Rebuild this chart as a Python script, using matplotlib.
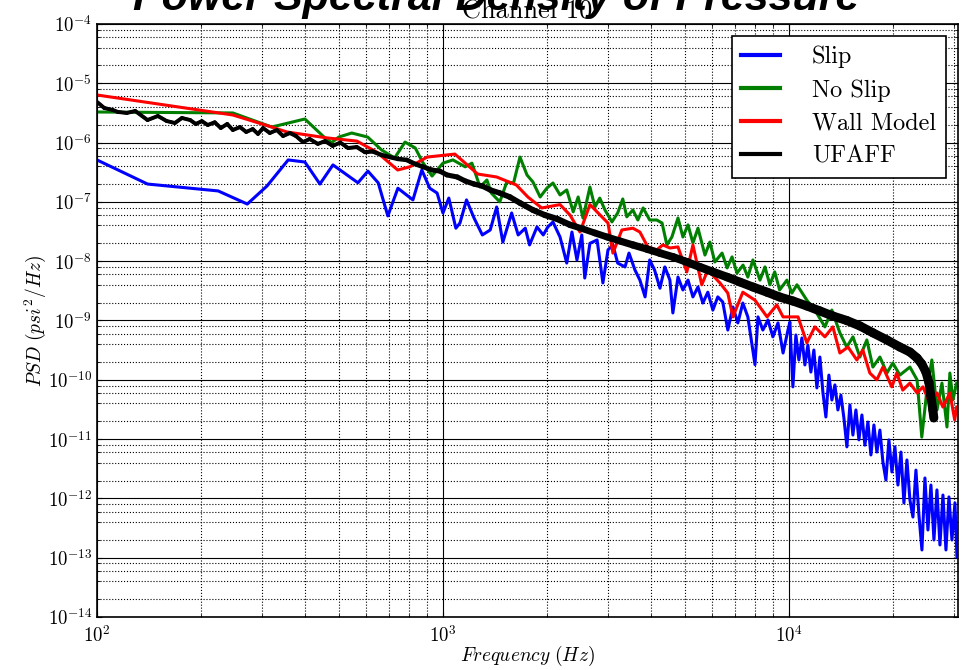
import matplotlib
matplotlib.use("Agg")
import matplotlib.pyplot as plt
import numpy as np
from matplotlib.collections import LineCollection
from matplotlib.ticker import LogLocator, FuncFormatter, NullFormatter

plt.rcParams['mathtext.fontset'] = 'cm'
plt.rcParams['axes.formatter.use_mathtext'] = True

# Slip
slip_freq = [100, 140, 224, 272, 310, 357, 399, 441, 481, 568, 607, 650, 693, 741, 819, 869, 916, 962,
             1000, 1040, 1090, 1120, 1170, 1230, 1300, 1370, 1430, 1490, 1580, 1650, 1730, 1780, 1870,
             1950, 2010, 2080, 2180, 2280, 2360, 2440, 2520, 2570, 2660, 2790, 2900, 3000, 3100, 3200,
             3360, 3450, 3590, 3710, 3840, 3960, 4090, 4240, 4380, 4530, 4620, 4780, 4940, 5110, 5280,
             5460, 5640, 5830, 6030, 6230, 6440, 6660, 6890, 7120, 7360, 7610, 7980, 8140, 8410, 8700,
             8990, 9300, 9620, 9940,
             10067, 10270, 10477, 10688, 10904, 11124, 11348, 11577, 11810, 12049, 12292, 12540,
             12793, 13051, 13314, 13583, 13857, 14137, 14422, 14713, 15010, 15313, 15622, 15937,
             16258, 16586, 16921, 17262, 17611, 17966, 18328, 18698, 19076, 19461, 19853, 20254,
             20663, 21080, 21505, 21939, 22381, 22833, 23294, 23764, 24243, 24732, 25231, 25740,
             26260, 26790, 27330, 27882, 28444, 29018, 29604, 30201, 30604]
slip_psd = [5.1e-7, 2.0e-7, 1.53e-7, 9.2e-8, 1.85e-7, 5.1e-7, 4.7e-7, 2.0e-7, 4.2e-7, 2.1e-7, 3.3e-7,
            2.1e-7, 5.8e-8, 1.7e-7, 1.08e-7, 3.45e-7, 1.7e-7, 1.41e-7,
            6.5e-8, 1.16e-7, 3.6e-8, 4.4e-8, 1.08e-7, 5.35e-8, 2.77e-8, 3.36e-8, 8.2e-8, 2.1e-8, 6.5e-8,
            2.77e-8, 3.6e-8, 1.88e-8, 3.78e-8, 2.77e-8, 3.78e-8, 4.58e-8, 2.56e-8, 9.3e-9, 3.1e-8,
            1.05e-8, 2.77e-8, 5.2e-9, 2.0e-8, 2.28e-8, 4.3e-9, 1.55e-8, 1.88e-8, 9.3e-9,
            8.0e-9, 1.37e-8, 7.1e-9, 4.8e-9, 2.5e-9, 1.05e-8, 7.1e-9, 3.5e-9, 8.0e-9, 4.8e-9, 1.34e-9,
            5.4e-9, 3.27e-9, 4.8e-9, 2.5e-9, 3.67e-9, 1.97e-9, 3.0e-9, 1.5e-9, 2.5e-9, 2.05e-9, 6.9e-10,
            1.69e-9, 9.1e-10, 1.97e-9, 1.15e-9, 1.8e-10, 1.15e-9, 6.9e-10, 1.02e-9, 5.3e-10, 9.1e-10,
            2.83e-10, 6.9e-10,
            9.4e-10, 7.6e-11, 5.7e-10, 2.16e-10, 5.07e-10, 1.78e-10, 3.86e-10, 1.35e-10, 3.18e-10,
            7.3e-11, 2.42e-10, 6.2e-11, 2.36e-11, 1.2e-10, 4.56e-11, 8.2e-11, 3.1e-11, 5.5e-11,
            2.27e-11, 7.4e-12, 3.76e-11, 1.17e-11, 3.1e-11, 9.7e-12, 2.55e-11, 7.9e-12, 1.94e-11,
            5.4e-12, 1.73e-11, 6.05e-12, 1.42e-11, 4.1e-12, 2.04e-12, 9.7e-12, 2.79e-12, 7.4e-12,
            1.68e-12, 6.05e-12, 8.4e-13, 4.45e-12, 9.4e-13, 4.85e-13, 3.0e-12, 5.25e-13, 1.35e-13,
            2.21e-12, 2.93e-13, 1.68e-12, 1.99e-13, 1.39e-12, 1.64e-13, 1.14e-12, 1.35e-13, 1.06e-12,
            1.99e-13, 8.4e-13, 1.03e-13]

# No Slip
noslip_freq = [100, 247, 320, 399, 456, 477, 500, 545, 606, 665, 725, 777, 832, 873, 930, 1000, 1069,
               1160, 1213, 1280, 1340, 1380, 1460, 1530, 1600, 1670, 1750, 1820, 1910, 2000, 2080,
               2180, 2280, 2380, 2460, 2540, 2660, 2750, 2840, 2940, 3080, 3200, 3310, 3400, 3540,
               3660, 3790, 3960, 4150, 4300, 4440, 4590, 4780, 4940, 5110, 5280, 5460, 5720, 5910,
               6110, 6410, 6630, 6850, 7080, 7370, 7610, 7870, 8250, 8530, 8810, 9100, 9400, 9870,
               10200, 10550, 11270, 11890, 12710, 13310, 14040, 14700, 15320, 16040, 16800, 17490,
               18330, 19200, 19970, 20930, 22380, 23470, 24220, 25060, 25900, 26800, 27700, 28640,
               29200, 29800, 30550]
noslip_psd = [3.28e-6, 3.16e-6, 1.83e-6, 2.5e-6, 1.2e-6, 1.0e-6, 1.24e-6, 1.45e-6, 1.24e-6, 7.5e-7,
              5.5e-7, 1.02e-6, 8.1e-7, 4.7e-7, 2.73e-7, 4.5e-7, 5.1e-7, 3.9e-7, 4.5e-7, 1.78e-7,
              2.34e-7, 1.41e-7, 1.0e-7, 2.17e-7, 2.08e-7, 5.7e-7, 2.84e-7, 2.17e-7, 1.21e-7, 1.72e-7,
              2.08e-7, 1.31e-7, 1.59e-7, 6.8e-8, 1.21e-7, 5.35e-8, 1.78e-7, 8.2e-8, 1.16e-7, 7.3e-8,
              4.6e-8, 6.5e-8, 1.12e-7, 5.6e-8, 7.3e-8, 4.95e-8, 7.9e-8, 4.95e-8, 4.95e-8, 4.4e-8,
              1.88e-8, 2.56e-8, 5.35e-8, 2.56e-8, 4.1e-8, 2.03e-8, 3.6e-8, 1.27e-8, 2.1e-8, 9.7e-9,
              1.37e-8, 7.7e-9, 1.18e-8, 6.3e-9, 8.6e-9, 5.4e-9, 1.05e-8, 4.8e-9, 8.0e-9, 4.0e-9,
              6.6e-9, 3.27e-9, 4.8e-9, 2.9e-9, 4.0e-9, 2.2e-9, 1.5e-9, 7.8e-10, 1.5e-9, 6.2e-10,
              3.57e-10, 5.3e-10, 2.42e-10, 4.7e-10, 1.64e-10, 2.42e-10, 1.3e-10, 1.92e-10, 1.2e-10,
              1.64e-10, 1.0e-10, 1.08e-11, 6.7e-11, 2.16e-10, 3.1e-11, 8.8e-11, 1.6e-11, 1.3e-10,
              4.6e-11, 8.8e-11]

# Wall Model
wall_freq = [100, 247, 320, 354, 462, 564, 644, 740, 802, 900, 1083, 1260, 1430, 1630, 1760, 1930,
             2180, 2330, 2490, 2660, 3000, 3100, 3290, 3540, 3710, 3910, 4150, 4320, 4530, 4780, 5070,
             5280, 5600, 5830, 6320, 6660, 6890, 7360, 7980, 8650, 9230, 9620, 10070, 10630, 11270,
             11890, 12710, 13400, 14040, 14820, 15720, 16360, 17140, 17960, 18700, 19840, 20500,
             21340, 22380, 23470, 24400, 25560, 26800, 27870, 29200, 30150, 30550]
wall_psd = [6.35e-6, 2.92e-6, 1.83e-6, 1.51e-6, 1.2e-6, 1.06e-6, 6.9e-7, 3.45e-7, 3.9e-7, 5.7e-7,
            6.4e-7, 2.95e-7, 2.63e-7, 1.93e-7, 1.21e-7, 7.9e-8, 9.0e-8, 6.0e-8, 3.1e-8, 9.0e-8,
            4.4e-8, 1.37e-8, 3.36e-8, 3.6e-8, 3.1e-8, 1.74e-8, 1.55e-8, 1.88e-8, 1.67e-8, 1.74e-8,
            6.6e-9, 1.88e-8, 4.0e-9, 7.1e-9, 4.3e-9, 2.9e-9, 1.15e-9, 3.0e-9, 2.2e-9, 1.15e-9,
            1.83e-9, 1.15e-9, 1.15e-9, 1.15e-9, 4.2e-10, 7.8e-10, 5.3e-10, 7.8e-10, 2.83e-10,
            3.57e-10, 2.16e-10, 3.18e-10, 1.3e-10, 1.0e-10, 1.64e-10, 7.6e-11, 1.3e-10, 6.7e-11,
            8.8e-11, 6.0e-11, 7.6e-11, 4.06e-11, 6.0e-11, 3.47e-11, 6.0e-11, 2.1e-11, 3.47e-11]

# UFAFF
ufaff_freq = [100, 105, 111, 115, 122, 129, 140, 150, 159, 168, 176, 186, 193, 201, 209, 219, 228,
              238, 247, 259, 270, 282, 292, 302, 316, 331, 345, 361, 376, 394, 412, 435, 456, 480,
              505, 532, 564, 595, 626, 664, 702, 741, 786, 832, 875, 930, 980, 1027, 1100, 1160,
              1230, 1300, 1370, 1460, 1560, 1670, 1820, 1970, 2140, 2330, 2540, 2750, 2980, 3250,
              3540, 3890, 4240, 4620, 5070, 5520, 6030, 6630, 7220, 7870, 8650, 9400, 10280, 11270,
              12290, 13400, 14700, 16040, 17490, 19200, 20930, 22380, 23470, 24220, 24900, 25400,
              25700, 26070, 26240]
ufaff_psd = [4.85e-6, 3.83e-6, 3.55e-6, 3.28e-6, 3.16e-6, 3.41e-6, 2.4e-6, 2.81e-6, 2.31e-6, 2.14e-6,
             2.6e-6, 2.4e-6, 2.06e-6, 2.3e-6, 1.98e-6, 2.2e-6, 1.76e-6, 2.06e-6, 1.63e-6, 1.83e-6,
             1.51e-6, 1.69e-6, 1.4e-6, 1.76e-6, 1.45e-6, 1.63e-6, 1.29e-6, 1.45e-6, 1.29e-6, 1.02e-6,
             1.15e-6, 9.5e-7, 1.06e-6, 8.8e-7, 1.0e-6, 8.1e-7, 8.4e-7, 6.9e-7, 7.1e-7, 6.2e-7, 5.7e-7,
             5.3e-7, 5.1e-7, 4.35e-7, 3.9e-7, 3.45e-7, 3.3e-7, 2.85e-7, 2.63e-7, 2.25e-7, 2.0e-7,
             1.85e-7, 1.59e-7, 1.41e-7, 1.21e-7, 9.6e-8, 7.3e-8, 6.0e-8, 5.15e-8, 4.1e-8, 3.5e-8,
             2.99e-8, 2.56e-8, 2.19e-8, 1.88e-8, 1.6e-8, 1.37e-8, 1.18e-8, 9.7e-9, 8.0e-9, 6.6e-9,
             5.4e-9, 4.45e-9, 3.67e-9, 3.0e-9, 2.49e-9, 2.13e-9, 1.76e-9, 1.45e-9, 1.19e-9, 1.0e-9,
             8.1e-10, 6.2e-10, 4.7e-10, 3.57e-10, 2.94e-10, 2.33e-10, 1.85e-10, 1.35e-10, 9.0e-11,
             5.5e-11, 3.1e-11, 2.27e-11]

fig = plt.figure(figsize=(9.63, 6.70), dpi=100)
ax = fig.add_axes([0.1007, 0.0791, 0.894, 0.8851])

lw = 2.2
ax.plot(slip_freq, slip_psd, color='#0000ff', lw=lw, label='Slip')
ax.plot(noslip_freq, noslip_psd, color='#007f00', lw=lw, label='No Slip')
ax.plot(wall_freq, wall_psd, color='#ff0000', lw=lw, label='Wall Model')
ax.plot(ufaff_freq, ufaff_psd, color='k', lw=lw, label='UFAFF')

# UFAFF band gets thicker at high frequency (dense, noisy spectrum)
pts = np.column_stack([ufaff_freq, ufaff_psd])
segs = np.stack([pts[:-1], pts[1:]], axis=1)
band_w = np.interp(np.log10(pts[:-1, 0]), [2.7, 3.3, 3.9, 4.3], [2.8, 4.4, 6.5, 6.5])
ax.add_collection(LineCollection(segs, colors='k', linewidths=band_w, capstyle='round'))

ax.set_xscale('log')
ax.set_yscale('log')
ax.set_xlim(100, 30800)
ax.set_ylim(1e-14, 1e-4)

dec_fmt = FuncFormatter(lambda v, pos: r'$10^{%d}$' % round(np.log10(v)))
ax.xaxis.set_major_locator(LogLocator(base=10, numticks=20))
ax.xaxis.set_minor_locator(LogLocator(base=10, subs=np.arange(2, 10), numticks=20))
ax.yaxis.set_major_locator(LogLocator(base=10, numticks=20))
ax.yaxis.set_minor_locator(LogLocator(base=10, subs=[2, 4, 6, 8], numticks=20))
for axis in (ax.xaxis, ax.yaxis):
    axis.set_major_formatter(dec_fmt)
    axis.set_minor_formatter(NullFormatter())

ax.grid(True, which='major', color='k', ls='-', lw=0.8)
ax.grid(True, which='minor', color='k', ls=':', lw=0.8)
ax.tick_params(which='both', direction='in', labelsize=13.5, top=True, right=True)
ax.tick_params(axis='x', pad=6)
for s in ax.spines.values():
    s.set_linewidth(1.2)

ax.set_xlabel(r'$Frequency\ (Hz)$', fontsize=14, labelpad=-2)
ax.set_ylabel(r'$PSD\ (psi^2/Hz)$', fontsize=14, labelpad=0)
ax.set_title('Channel 10', family='cmr10', fontsize=19, pad=1)

fig.text(0.515, 0.985, 'Power Spectral Density of Pressure', ha='center', va='baseline',
         family='Liberation Sans', fontsize=31, fontweight='bold', fontstyle='italic')

leg = ax.legend(loc='upper right', prop={'family': 'cmr10', 'size': 17.5}, handlelength=1.6,
                handletextpad=1.3, labelspacing=0.45, borderaxespad=0.5, fancybox=False,
                framealpha=1, edgecolor='k')
leg.get_frame().set_linewidth(1.2)
for h in leg.get_lines():
    h.set_linewidth(3)

fig.savefig('out.png', dpi=100)
